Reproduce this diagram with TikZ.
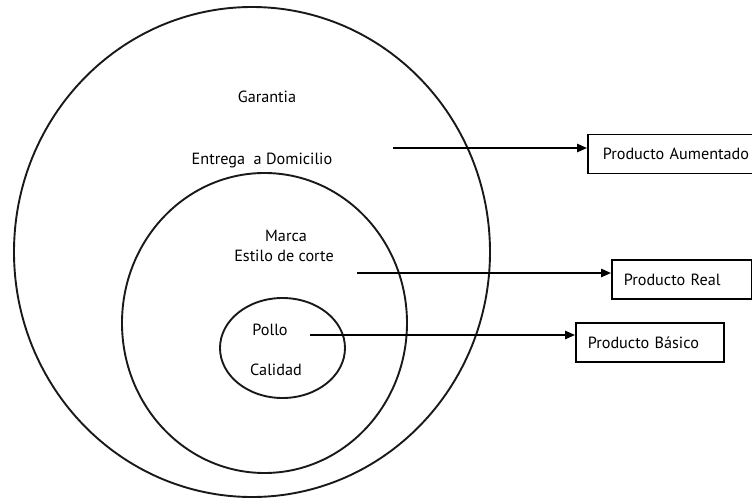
\documentclass[tikz,border=0pt]{standalone}
\usepackage{fontspec}
\setmainfont{PT Sans}
\usetikzlibrary{arrows.meta}

\tikzset{
	ring/.style={line width=0.95pt, color=black!90},
	lbl/.style={inner sep=0pt, font=\fontsize{8.1}{10}\selectfont},
	level/.style={draw, line width=0.85pt, anchor=west, inner xsep=0pt, inner ysep=0pt,
		minimum height=19.5pt, align=left, font=\fontsize{8.1}{10}\selectfont},
	conn/.style={line width=0.85pt, -{Triangle[length=5pt,width=4.2pt]}}
}

\begin{document}
\begin{tikzpicture}[x=0.5pt, y=-0.5pt]
		%%%%% START %%%%%
		
		\useasboundingbox (0, 0) rectangle (752, 499);
		
		\draw[ring] (252, 252) ellipse [x radius=238, y radius=245];
		\draw[ring] (264.5, 323) ellipse [x radius=142.5, y radius=150];
		\draw[ring] (282.5, 348) ellipse [x radius=62.5, y radius=50];
		
		\node[lbl] (garantia) at (267, 97) {Garantia};
		\node[lbl] (entrega) at (262, 160) {Entrega~ a Domicilio};
		\node[lbl] (marca) at (286, 236) {Marca};
		\node[lbl] (estilo) at (284, 256) {Estilo de corte};
		\node[lbl] (pollo) at (270, 330) {Pollo};
		\node[lbl] (calidad) at (276, 370) {Calidad};
		
		\node[level, text width=149pt] (aumentado) at (587, 154) {\hspace{7.5pt}Producto Aumentado};
		\node[level, text width=70pt] (real) at (611, 279.5) {\hspace{6pt}Producto Real};
		\node[level, text width=74pt] (basico) at (575, 342.5) {\hspace{6pt}Producto Básico};
		
		\coordinate (from aum) at (393, 148);
		\coordinate (from real) at (357, 273);
		\coordinate (from bas) at (310, 335);
		
		\draw[conn] (from aum) -- (from aum -| aumentado.west);
		\draw[conn] (from real) -- (from real -| real.west);
		\draw[conn] (from bas) -- (from bas -| basico.west);
		
		%%%%% END %%%%%
	\end{tikzpicture}
\end{document}
